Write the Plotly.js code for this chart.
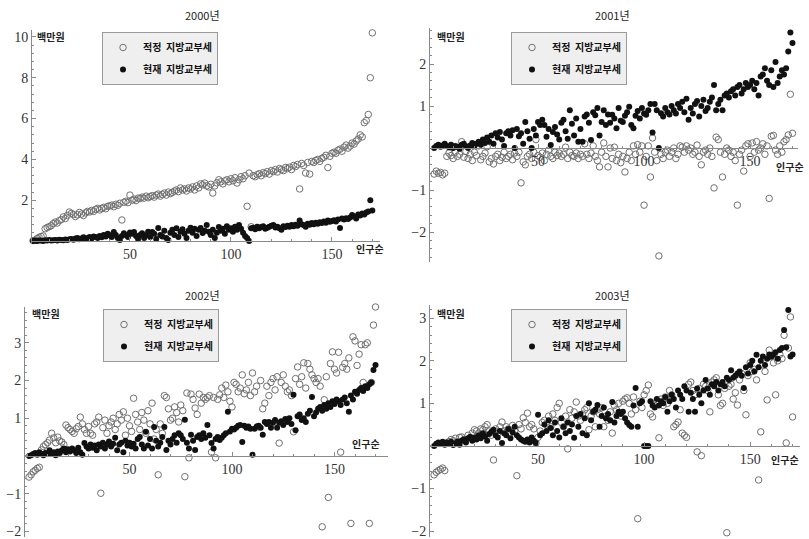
<!DOCTYPE html>
<html><head><meta charset="utf-8">
<script src="https://cdn.plot.ly/plotly-3.0.1.min.js"></script>
<style>html,body{margin:0;padding:0;background:#fff}#chart{width:809px;height:539px}</style>
</head><body><div id="chart"></div>
<script>
// rank order (인구순) 1..170
const rank = Array.from({length:170},(_,i)=>i+1);

const years = ["2000년","2001년","2002년","2003년"];
const seriesNames = ["적정\u00a0\u00a0지방교부세","현재\u00a0\u00a0지방교부세"];
const yUnit = "백만원";
const xUnit = "인구순";

// 2000
const proper2000 = [
-0.08,0.02,0.05,0.12,0.18,0.22,0.25,0.6,0.66,0.7,
0.75,0.85,0.93,0.88,1.0,1.05,1.18,1.1,1.25,1.42,
1.35,1.3,1.2,1.28,1.4,1.32,1.25,1.38,1.45,1.42,
1.5,1.45,1.55,1.6,1.52,1.6,1.65,1.58,1.7,1.72,
1.76,1.68,1.8,1.75,1.85,1.03,1.9,1.95,1.88,2.25,
2.0,2.05,1.98,2.1,2.08,2.15,2.1,2.2,2.12,2.18,
2.22,2.15,2.25,2.3,2.2,2.28,2.35,2.25,2.4,2.32,
2.38,2.45,2.5,2.42,2.6,2.5,2.55,2.45,2.6,2.55,
2.65,2.5,2.7,2.6,2.8,2.75,2.84,2.7,2.65,2.78,
2.35,2.7,2.85,3.0,2.9,2.8,2.95,3.0,2.9,3.05,
2.95,3.1,2.84,3.0,3.15,3.05,3.2,1.7,3.33,0.7,
3.2,3.15,3.25,3.3,3.2,3.35,3.3,3.4,3.28,3.45,
3.4,3.5,3.38,3.55,3.5,3.45,3.6,3.55,3.62,3.5,
3.7,3.65,3.75,2.55,3.8,3.7,3.33,3.85,3.28,3.9,
3.85,3.95,4.0,3.9,4.05,4.1,4.2,3.6,4.15,4.3,
4.35,4.3,4.45,4.5,4.4,4.6,4.7,4.55,4.65,4.8,
4.75,4.9,5.0,5.2,5.1,5.8,5.9,6.2,8.0,10.2];
const current2000 = [
0.0,0.0,0.02,0.0,0.03,0.02,0.0,0.04,0.03,0.05,
0.02,0.04,0.05,0.03,0.06,0.05,0.04,0.07,0.05,0.08,
0.1,0.06,0.12,0.15,0.08,0.12,0.18,0.1,0.15,0.2,
0.12,0.22,0.2,0.15,0.25,0.18,0.3,0.22,0.35,0.28,
0.2,0.44,0.3,0.15,0.05,0.25,0.38,0.3,0.2,0.42,
0.35,0.44,0.25,0.1,0.3,0.38,0.15,0.28,0.45,0.2,
0.44,0.35,0.1,0.64,0.3,0.22,0.5,0.15,0.05,0.4,
0.55,0.3,0.62,0.2,0.45,0.58,0.35,0.15,0.5,0.65,
0.4,0.6,0.25,0.55,0.64,0.39,0.5,0.78,0.45,0.3,
0.55,0.15,0.4,0.69,0.5,0.6,0.35,0.72,0.55,0.62,
0.45,0.7,0.55,0.78,0.6,0.4,0.25,0.15,0.0,0.62,
0.65,0.58,0.7,0.62,0.68,0.72,0.6,0.65,0.7,0.75,
0.78,0.66,0.7,0.62,0.55,0.72,0.68,0.75,0.7,0.78,
0.72,0.8,0.75,1.0,0.82,0.78,0.7,0.85,0.8,0.88,
0.82,0.9,0.85,0.92,0.88,0.95,0.9,1.0,0.94,0.98,
1.02,0.95,1.05,0.64,1.1,1.05,1.12,1.08,1.15,1.27,
1.2,1.1,1.3,1.25,1.35,1.3,1.4,1.45,2.0,1.5];

// 2001
const proper2001 = [
-0.62,-0.55,-0.6,-0.58,-0.64,-0.6,-0.2,-0.12,-0.18,-0.25,
-0.1,-0.2,-0.15,0.15,-0.22,-0.08,-0.25,-0.15,-0.3,-0.1,
-0.18,0.05,-0.28,-0.2,-0.12,0.03,-0.33,-0.25,-0.38,-0.2,
-0.15,-0.3,-0.22,-0.1,-0.25,-0.2,-0.15,-0.28,-0.12,-0.2,
-0.1,-0.83,-0.33,-0.4,-0.2,-0.15,-0.25,-0.1,0.2,-0.18,
-0.22,-0.12,-0.3,-0.15,-0.05,-0.2,-0.25,-0.1,-0.18,-0.12,
-0.2,-0.15,0.02,-0.25,-0.1,-0.18,-0.2,-0.12,-0.25,-0.15,
-0.2,0.1,-0.15,-0.25,-0.12,0.05,-0.2,-0.3,-0.45,-0.1,
0.12,-0.2,-0.45,0.0,-0.25,0.02,-0.3,-0.15,-0.35,-0.2,
-0.57,-0.25,-0.1,-0.3,0.05,-0.15,0.08,-0.1,0.05,-1.36,
-0.2,0.05,-0.69,0.24,-0.1,-0.3,-2.57,-0.15,-0.25,-0.1,
-0.05,-0.2,-0.1,0.0,-0.25,-0.15,0.05,0.02,-0.1,0.05,
-0.05,0.0,-0.15,-0.1,0.07,-0.2,-0.4,-0.1,-0.05,-0.15,
0.0,-0.2,-0.95,0.26,0.2,-0.1,-0.69,-0.15,0.0,-0.05,
-0.2,-0.1,-0.3,-1.36,-0.15,-0.05,-0.55,0.05,0.1,-0.2,
0.12,-0.1,0.15,-0.05,0.0,0.1,-0.15,0.05,-1.2,0.28,
0.3,-0.05,-0.15,0.05,-0.1,0.15,0.2,0.31,1.28,0.35];
const current2001 = [
0.0,0.05,0.08,0.03,0.06,0.1,0.05,0.02,0.08,0.0,
0.05,0.03,-0.02,0.08,0.1,0.04,0.0,0.06,0.12,0.05,
0.1,0.15,0.08,0.2,0.12,0.25,0.15,0.3,0.1,0.35,
0.25,0.38,0.2,0.05,0.35,0.4,0.3,0.42,0.0,0.45,
0.28,0.35,0.1,0.62,0.4,0.22,0.0,0.45,0.3,0.62,
0.55,0.67,0.55,0.27,0.45,0.07,0.38,0.5,0.32,0.2,
0.6,0.67,0.4,0.22,0.9,0.58,0.3,0.7,0.15,0.45,
0.15,0.75,0.8,0.6,0.19,0.85,0.78,0.95,0.3,0.62,
0.9,0.55,0.8,0.6,0.79,0.7,0.47,0.95,0.65,0.62,
0.77,0.85,0.98,0.55,0.47,0.77,0.88,0.7,0.95,0.82,
0.79,0.9,1.05,0.37,1.05,0.9,0.0,0.83,0.75,0.95,
0.85,0.8,1.0,0.9,0.82,1.05,0.95,1.1,0.85,1.17,
0.67,0.95,0.82,1.05,1.12,0.75,1.0,1.15,0.88,0.95,
1.1,1.2,1.5,0.9,1.05,1.15,0.9,1.25,1.3,1.2,
1.35,1.4,1.25,1.45,1.5,1.3,1.4,1.55,1.45,1.5,
1.6,1.4,1.55,1.25,1.7,1.75,1.9,1.6,1.5,1.85,
1.45,2.05,1.55,1.7,1.85,1.75,1.9,2.3,2.75,2.5];

// 2002
const proper2002 = [
-0.56,-0.5,-0.42,-0.38,-0.33,-0.3,0.16,0.25,0.3,0.35,
0.42,0.6,0.48,0.35,0.5,0.4,0.37,0.3,0.82,0.75,
0.7,0.65,0.6,0.72,0.78,1.03,0.85,0.7,0.6,0.78,
0.6,0.55,0.85,0.9,1.03,-0.99,0.75,0.95,0.6,0.8,
0.9,1.0,0.7,0.85,1.1,0.95,1.17,0.55,1.0,0.8,
0.65,1.53,1.1,0.9,0.7,1.15,0.95,0.6,1.2,0.85,
1.4,0.45,0.7,-0.5,0.85,0.6,1.6,1.55,1.25,0.95,
1.0,1.3,1.15,0.9,1.35,1.2,-0.55,1.67,-0.05,1.64,
1.5,1.27,1.1,1.64,1.4,1.55,1.5,1.55,1.6,0.1,
1.55,-0.05,1.5,1.62,1.8,1.55,1.88,1.7,1.45,1.3,
1.95,1.9,1.7,1.8,2.15,1.65,1.75,1.95,1.6,2.2,
1.7,1.85,0.77,2.0,1.25,1.4,1.85,1.6,1.95,2.05,
1.75,2.1,0.34,1.95,2.15,1.85,1.7,1.75,1.6,0.64,
2.05,2.36,1.9,2.1,2.47,1.8,2.45,2.3,2.15,2.05,
1.95,2.05,1.85,-1.88,1.49,2.1,-1.1,2.45,2.76,2.3,
2.2,2.75,0.1,2.35,2.45,2.3,2.6,-1.79,3.16,3.05,
2.4,2.7,2.95,1.95,2.95,3.0,-1.79,1.95,3.47,3.95];
const current2002 = [
0.0,0.02,0.05,0.08,0.03,0.1,0.06,0.02,0.08,0.05,
0.15,0.05,0.1,0.02,0.12,0.08,0.15,0.2,0.1,0.18,
0.12,0.2,0.15,0.08,0.22,0.1,0.03,0.34,0.25,0.2,
0.3,0.22,0.28,0.15,0.3,0.25,0.35,0.2,0.3,0.38,
0.25,0.32,0.48,0.15,0.3,0.35,0.1,0.4,0.28,0.35,
0.25,0.32,0.2,0.45,0.5,0.3,0.2,0.64,0.28,0.45,
0.2,0.77,0.4,0.25,0.35,0.5,0.77,0.16,0.4,0.3,
0.45,0.55,0.35,0.6,0.55,0.45,0.96,0.35,0.2,0.56,
0.4,0.16,0.5,0.55,0.45,0.6,0.48,0.82,0.55,0.34,
0.2,0.45,0.5,0.42,0.48,0.55,0.6,1.17,0.65,0.72,
0.7,0.75,0.8,0.82,0.37,0.8,0.75,0.78,0.72,0.03,
0.72,0.78,0.8,0.75,0.56,0.9,0.85,0.9,0.75,0.88,
0.95,0.75,0.88,0.92,0.82,0.98,0.9,1.0,0.85,1.62,
0.68,1.05,1.1,0.95,1.0,0.9,1.12,1.2,1.56,1.05,
1.15,1.25,1.3,1.2,1.35,1.25,1.4,1.3,1.45,1.38,
1.5,1.45,1.35,1.5,1.55,1.4,1.17,1.6,1.5,1.7,
1.65,1.75,1.8,1.72,1.85,1.8,1.9,1.95,2.28,2.41];

// 2003
const proper2003 = [
-0.68,-0.62,-0.58,-0.55,-0.52,-0.58,0.07,0.1,0.15,0.12,
0.18,0.1,0.2,0.21,0.15,0.12,0.25,0.2,0.3,0.38,
0.35,0.3,0.4,0.38,0.45,0.5,0.35,0.25,-0.33,0.4,
0.3,0.45,0.56,0.35,0.45,0.4,0.3,0.48,0.35,-0.7,
0.5,0.4,0.66,0.55,0.77,0.45,0.5,0.4,0.07,0.2,
0.35,0.55,0.6,0.5,0.7,0.45,0.75,0.6,0.9,1.0,
0.55,0.45,0.7,-0.07,0.85,0.65,0.8,1.03,0.7,0.6,
0.75,0.85,0.9,0.38,0.7,0.8,0.45,0.85,0.75,0.9,
0.45,0.7,0.6,0.8,0.3,0.95,0.85,1.0,0.7,1.05,
1.1,1.13,1.0,0.75,1.15,0.85,-1.71,1.05,0.9,1.2,
1.3,1.43,0.75,0.68,0.95,1.05,0.19,1.1,0.95,1.15,
1.0,1.3,1.2,0.45,0.5,0.56,0.85,0.3,0.25,0.2,
1.45,1.5,1.3,1.2,-0.14,1.35,-0.23,1.45,1.4,1.3,
0.8,1.5,1.55,1.6,1.2,0.95,1.0,1.35,-2.04,1.4,
1.45,1.1,1.25,0.96,1.55,1.7,1.3,0.73,1.65,1.95,
1.75,1.8,1.55,-0.8,0.33,1.9,1.75,1.08,2.25,2.1,
1.95,1.2,2.0,2.15,2.05,2.6,0.07,2.3,3.03,0.68];
const current2003 = [
0.0,0.05,0.08,0.06,0.1,0.03,0.08,0.05,0.1,0.02,
0.05,0.1,0.03,0.12,0.15,0.08,0.18,0.21,0.12,0.2,
0.15,0.25,0.18,0.3,0.22,0.12,0.28,0.33,0.38,0.25,
0.2,0.35,0.07,0.3,0.25,0.4,0.18,0.32,0.45,0.25,
0.2,0.15,0.12,0.1,0.15,0.08,0.2,0.12,0.07,0.73,
0.25,0.3,0.5,0.35,0.6,0.42,0.25,0.55,0.35,0.2,
0.65,0.45,0.3,0.55,0.35,0.5,0.19,0.7,0.45,0.75,
0.3,0.65,0.25,1.0,0.6,0.8,0.85,0.96,0.45,0.7,
0.9,0.65,0.75,0.6,1.03,0.55,0.7,0.8,0.75,0.8,
0.65,0.55,0.49,0.45,0.95,1.36,0.45,1.0,1.05,0.0,
0.0,0.0,1.05,0.95,0.9,1.1,0.95,1.05,1.0,1.15,
0.8,1.05,1.2,1.1,0.9,1.3,1.2,1.1,1.4,1.3,
0.8,1.25,1.1,0.8,1.35,1.2,1.0,1.3,1.55,1.35,
1.2,1.45,1.4,1.5,1.3,1.45,1.5,1.4,1.6,1.55,
1.78,1.6,1.65,1.7,1.75,1.65,1.36,1.85,1.7,1.9,
2.0,1.75,2.14,1.85,2.0,2.1,1.9,2.05,2.15,2.1,
2.15,2.2,2.05,2.25,2.3,2.72,2.32,3.19,2.1,2.15];

// tick labels
const xTickVals = [50,100,150];
const yTicks2000 = [2,4,6,8,10];
const yTicks2001 = [-2,-1,1,2];
const yTicks2002 = [-2,-1,1,2,3];
const yTicks2003 = [-2,-1,1,2,3];

const proper = [proper2000, proper2001, proper2002, proper2003];
const current = [current2000, current2001, current2002, current2003];
const yTicks = [yTicks2000, yTicks2001, yTicks2002, yTicks2003];

// ---- layout geometry (pixels in 809x539 page) ----
const W = 809, H = 539;
const panels = [
  {xd:[32,380], xr:[1.5,173.8], yd:[30,244], yr:[-0.147,10.34], ym:0.4,
   title:[202,15], unit:[35,36], xlab:[370,249], leg:[102,32]},
  {xd:[430,798], xr:[-0.94,172.6], yd:[28,262], yr:[-2.714,2.857], ym:0.2,
   title:[612,15], unit:[435,36], xlab:[790,166], leg:[511,32]},
  {xd:[25,388], xr:[-0.98,176.1], yd:[307,537], yr:[-2.15,3.95], ym:0.2,
   title:[202,295], unit:[30,313], xlab:[366,443], leg:[103,309]},
  {xd:[430,800], xr:[-0.94,173.5], yd:[305,537], yr:[-2.14,3.31], ym:0.2,
   title:[612,295], unit:[435,313], xlab:[785,459], leg:[511,309]}
];

const tickFont = {family:"Liberation Serif, serif", size:14, color:"#333"};
const korFont = {family:"Noto Sans CJK KR, sans-serif", size:10, color:"#222"};
const axisColor = "#8a8a8a";

const data = [];
const layout = {
  width:W, height:H, margin:{l:0,r:0,t:0,b:0},
  paper_bgcolor:"#fff", plot_bgcolor:"rgba(0,0,0,0)",
  showlegend:true, annotations:[]
};

panels.forEach((p, i) => {
  const n = i === 0 ? "" : String(i+1);
  const xa = "x"+n, ya = "y"+n;
  const legKey = i === 0 ? "legend" : "legend"+(i+1);
  const yd0 = 1 - p.yd[1]/H, yd1 = 1 - p.yd[0]/H;
  const zeroFrac = (0 - p.yr[0])/(p.yr[1]-p.yr[0]);
  const xPos = yd0 + zeroFrac*(yd1-yd0);

  layout["xaxis"+n] = {
    domain:[p.xd[0]/W, p.xd[1]/W], range:p.xr, anchor:"free", position:xPos,
    showgrid:false, zeroline:false, showline:true, linecolor:axisColor, linewidth:1,
    ticks:"inside", ticklen:4, tickcolor:axisColor, tickmode:"array",
    tickvals:xTickVals, ticktext:xTickVals.map(String), tickfont:tickFont,
    ticklabeloverflow:"allow",
    minor:{ticks:"inside", ticklen:2, tickcolor:axisColor, tickmode:"linear", tick0:0, dtick:10, showgrid:false},
    fixedrange:true
  };
  layout["yaxis"+n] = {
    domain:[yd0, yd1], range:p.yr, anchor:xa,
    showgrid:false, zeroline:false, showline:true, linecolor:axisColor, linewidth:1,
    ticks:"inside", ticklen:4, tickcolor:axisColor, tickmode:"array",
    tickvals:yTicks[i], ticktext:yTicks[i].map(v => v<0 ? "\u2212"+Math.abs(v) : String(v)), tickfont:tickFont,
    ticklabeloverflow:"allow",
    minor:{ticks:"inside", ticklen:2, tickcolor:axisColor, tickmode:"linear", tick0:0, dtick:p.ym, showgrid:false},
    fixedrange:true
  };
  layout[legKey] = {
    x:p.leg[0]/W, y:1-p.leg[1]/H, xanchor:"left", yanchor:"top",
    bgcolor:"#efefef", bordercolor:"#9a9a9a", borderwidth:1,
    font:{family:"Noto Sans CJK KR, sans-serif", size:10, color:"#111", weight:"bold"},
    tracegroupgap:3, itemwidth:30
  };

  data.push({
    type:"scatter", mode:"markers", x:rank, y:proper[i], xaxis:xa, yaxis:ya,
    name:seriesNames[0], legend:legKey, legendgroup:"p"+i,
    marker:{symbol:"circle-open", size:6.5, color:"#707070", line:{width:1, color:"#707070"}},
    hoverinfo:"skip", cliponaxis:false
  });
  data.push({
    type:"scatter", mode:"markers", x:rank, y:current[i], xaxis:xa, yaxis:ya,
    name:seriesNames[1], legend:legKey, legendgroup:"c"+i,
    marker:{symbol:"circle", size:6, color:"#111"},
    hoverinfo:"skip", cliponaxis:false
  });

  layout.annotations.push({
    xref:"paper", yref:"paper", x:p.title[0]/W, y:1-p.title[1]/H,
    xanchor:"center", yanchor:"middle", showarrow:false, text:years[i],
    font:{family:"Noto Sans CJK KR, sans-serif", size:11, color:"#222"}
  });
  layout.annotations.push({
    xref:"paper", yref:"paper", x:p.unit[0]/W, y:1-p.unit[1]/H,
    xanchor:"left", yanchor:"middle", showarrow:false, text:"<b>"+yUnit+"</b>",
    font:korFont
  });
  layout.annotations.push({
    xref:"paper", yref:"paper", x:p.xlab[0]/W, y:1-p.xlab[1]/H,
    xanchor:"center", yanchor:"middle", showarrow:false, text:"<b>"+xUnit+"</b>",
    font:korFont
  });
});

Plotly.newPlot("chart", data, layout, {staticPlot:true, displayModeBar:false});
</script>
</body></html>
